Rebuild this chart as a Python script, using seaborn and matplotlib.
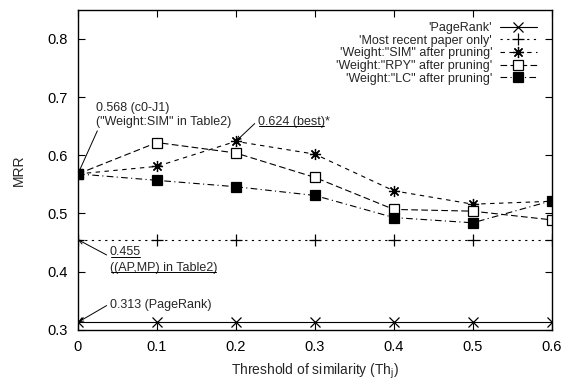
import matplotlib
matplotlib.use('Agg')
import matplotlib.pyplot as plt
from matplotlib.lines import Line2D
from matplotlib.text import Text
import seaborn as sns

# threshold values on the x axis
thresholds = [0.0, 0.1, 0.2, 0.3, 0.4, 0.5, 0.6]

# MRR per series
pagerank    = [0.313, 0.313, 0.313, 0.313, 0.313, 0.313, 0.313]
most_recent = [0.455, 0.455, 0.455, 0.455, 0.455, 0.455, 0.455]
weight_sim  = [0.568, 0.581, 0.624, 0.602, 0.539, 0.516, 0.521]
weight_rpy  = [0.568, 0.622, 0.604, 0.562, 0.507, 0.504, 0.489]
weight_lc   = [0.568, 0.557, 0.546, 0.531, 0.493, 0.484, 0.522]

labels = ["'PageRank'", "'Most recent paper only'",
          "'Weight:\"SIM\" after pruning'", "'Weight:\"RPY\" after pruning'",
          "'Weight:\"LC\" after pruning'"]

sns.set_style('ticks')
plt.rcParams['font.family'] = ['Liberation Sans', 'DejaVu Sans']
plt.rcParams['mathtext.fontset'] = 'custom'
plt.rcParams['mathtext.rm'] = 'Liberation Sans'

fig = plt.figure(figsize=(5.73, 3.80), dpi=100)
ax = fig.add_axes([0.136, 0.132, 0.827, 0.842])

styles = [
    dict(ls='-', marker='x', ms=7, mfc='black'),
    dict(ls=(0, (2, 4)), marker='+', ms=8, mfc='black'),
    dict(ls=(0, (4, 4)), marker=(8, 2, 0), ms=8, mfc='black'),
    dict(ls=(0, (6, 3)), marker='s', ms=7, mfc='white'),
    dict(ls=(0, (6, 3, 1, 3)), marker='s', ms=7, mfc='black'),
]
series = [pagerank, most_recent, weight_sim, weight_rpy, weight_lc]

for vals, lab, st in zip(series, labels, styles):
    sns.lineplot(x=thresholds, y=vals, ax=ax, color='black', lw=0.8,
                 mec='black', mew=0.9, label=lab, **st)

ax.set_xlim(0, 0.6)
ax.set_ylim(0.3, 0.85)
ax.set_xticks(thresholds)
ax.set_xticklabels(['0', '0.1', '0.2', '0.3', '0.4', '0.5', '0.6'])
ax.set_yticks([0.3, 0.4, 0.5, 0.6, 0.7, 0.8])
ax.tick_params(direction='in', top=True, right=True, length=5,
               labelsize=10.5, pad=7, color='black', labelcolor='black')
for s in ax.spines.values():
    s.set_color('black')
    s.set_linewidth(1.0)

ax.set_xlabel('Threshold of similarity (Th$_\\mathrm{j}$)', fontsize=10, labelpad=6)
ax.set_ylabel('MRR', fontsize=10, labelpad=16)

ax.legend(loc='upper right', bbox_to_anchor=(0.985, 0.985), frameon=False,
          markerfirst=False, fontsize=9, handlelength=3.0,
          labelspacing=0.05, handletextpad=0.6, borderaxespad=0.2)


def arrow(rel):
    return dict(arrowstyle='->,head_length=0.35,head_width=0.15',
                color='black', lw=0.7, shrinkA=0, shrinkB=0, relpos=rel)


fs = 9
ax.annotate('0.568 (c0-J1)\n("Weight:SIM" in Table2)', xy=(0, weight_sim[0]),
            xytext=(0.023, 0.692), fontsize=fs, va='top', ha='left',
            arrowprops=arrow((0.02, 0)))
t_best = ax.annotate('0.624 (best)', xy=(0.2, weight_sim[2]),
                     xytext=(0.228, 0.668), fontsize=fs, va='top', ha='left',
                     arrowprops=arrow((-0.03, 0.45)))
t_455 = ax.annotate('0.455', xy=(0, most_recent[0]), xytext=(0.0405, 0.423),
                    fontsize=fs, va='bottom', ha='left',
                    arrowprops=arrow((-0.05, 0.2)))
t_ap = ax.text(0.0405, 0.417, '((AP,MP) in Table2)', fontsize=fs,
               va='top', ha='left')
ax.annotate('0.313 (PageRank)', xy=(0, pagerank[0]), xytext=(0.0405, 0.343),
            fontsize=fs, va='center', ha='left',
            arrowprops=arrow((-0.03, 0.45)))

# underline some of the annotation texts (text box only, not the arrow)
fig.canvas.draw()
renderer = fig.canvas.get_renderer()
for t in [t_best, t_455, t_ap]:
    bb = Text.get_window_extent(t, renderer)
    yy = bb.y0 + 1.5
    fig.add_artist(Line2D([bb.x0 + 1, bb.x1 - 1], [yy, yy], transform=None,
                          color='black', lw=0.7))
bb = Text.get_window_extent(t_best, renderer)
fig.text(bb.x1 / fig.dpi / fig.get_figwidth(), bb.y0 / fig.dpi / fig.get_figheight(),
         '*', fontsize=fs, va='bottom', ha='left')

fig.savefig('out.png', dpi=100)
